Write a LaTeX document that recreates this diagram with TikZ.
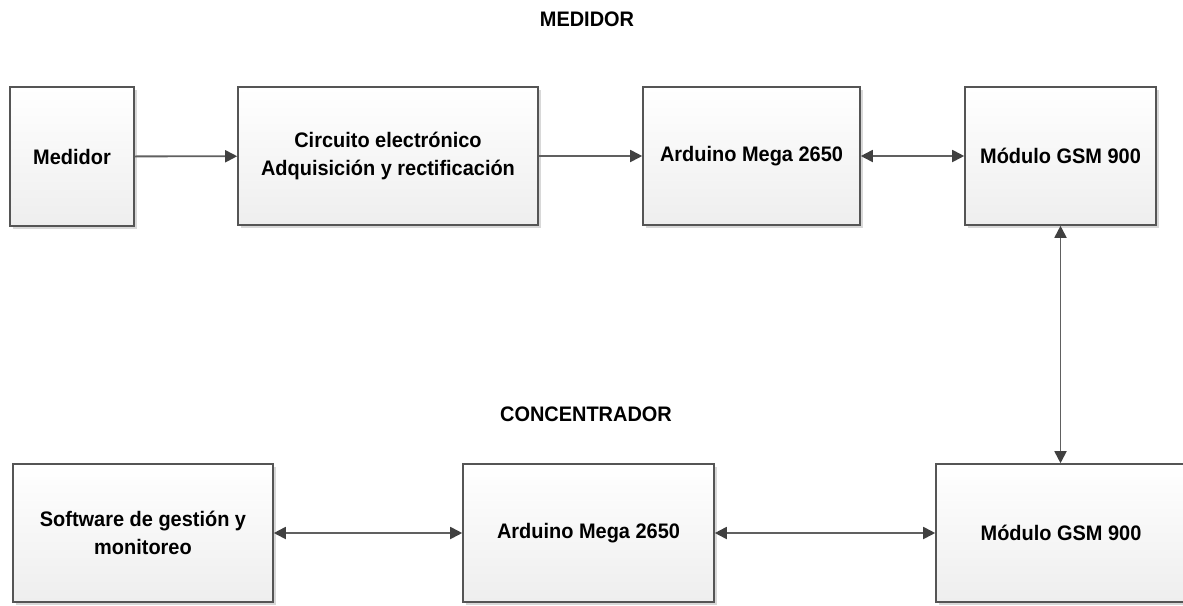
\documentclass[tikz,border=0pt]{standalone}
\usepackage{fontspec}
\setmainfont{Liberation Sans}[FakeStretch=0.95]
\usetikzlibrary{arrows.meta,shadows}
\definecolor{boxline}{RGB}{85,85,85}
\definecolor{linecol}{RGB}{96,96,96}
\definecolor{tipcol}{RGB}{64,64,64}
\definecolor{boxbottom}{RGB}{238,238,238}
\tikzset{
  blk/.style={rectangle, draw=boxline, line width=1.6pt, inner sep=0pt,
    top color=white, bottom color=boxbottom, middle color=white!50!boxbottom,
    drop shadow={shadow xshift=3pt, shadow yshift=-3pt, fill=black!25, opacity=0.6},
    align=center, font=\bfseries\fontsize{21}{28}\selectfont},
  ttl/.style={font=\bfseries\fontsize{21}{28}\selectfont, inner sep=0pt},
  conn/.style={draw=linecol, line width=1.8pt,
    arrows={-Triangle[length=12pt,width=12pt,fill=tipcol,color=tipcol]}},
  bconn/.style={conn, arrows={Triangle[length=12pt,width=12pt,fill=tipcol,color=tipcol]-Triangle[length=12pt,width=12pt,fill=tipcol,color=tipcol]}}
}
\begin{document}
\begin{tikzpicture}[x=1pt,y=-1pt]
\useasboundingbox[fill=white] (0,0) rectangle (1183,605);
\node[ttl] (t1) at (587,19) {MEDIDOR};
\node[ttl] (t2) at (586,414) {CONCENTRADOR};
\node[blk, minimum width=124pt, minimum height=139pt] (med) at (72,156.5) {Medidor};
\node[blk, minimum width=300pt, minimum height=138pt] (circ) at (388,156) {Circuito electrónico\\Adquisición y rectificación};
\node[blk, minimum width=217pt, minimum height=138pt] (ardt) at (751.5,156) {Arduino Mega 2650};
\node[blk, minimum width=191pt, minimum height=138pt] (modt) at (1060.5,156) {Módulo GSM 900};
\node[blk, minimum width=260pt, minimum height=138pt] (soft) at (143,533) {Software de gestión y\\monitoreo};
\node[blk, minimum width=251pt, minimum height=138pt] (ardb) at (588.5,533) {Arduino Mega 2650};
\node[blk, minimum width=250pt, minimum height=138pt] (modb) at (1061,533) {Módulo GSM 900};
\draw[conn] (med) -- (circ);
\draw[conn] (circ) -- (ardt);
\draw[bconn] (ardt) -- (modt);
\draw[bconn] (modt.south) -- (modt.south |- modb.north);
\draw[bconn] (soft) -- (ardb);
\draw[bconn] (ardb) -- (modb);
\end{tikzpicture}
\end{document}
